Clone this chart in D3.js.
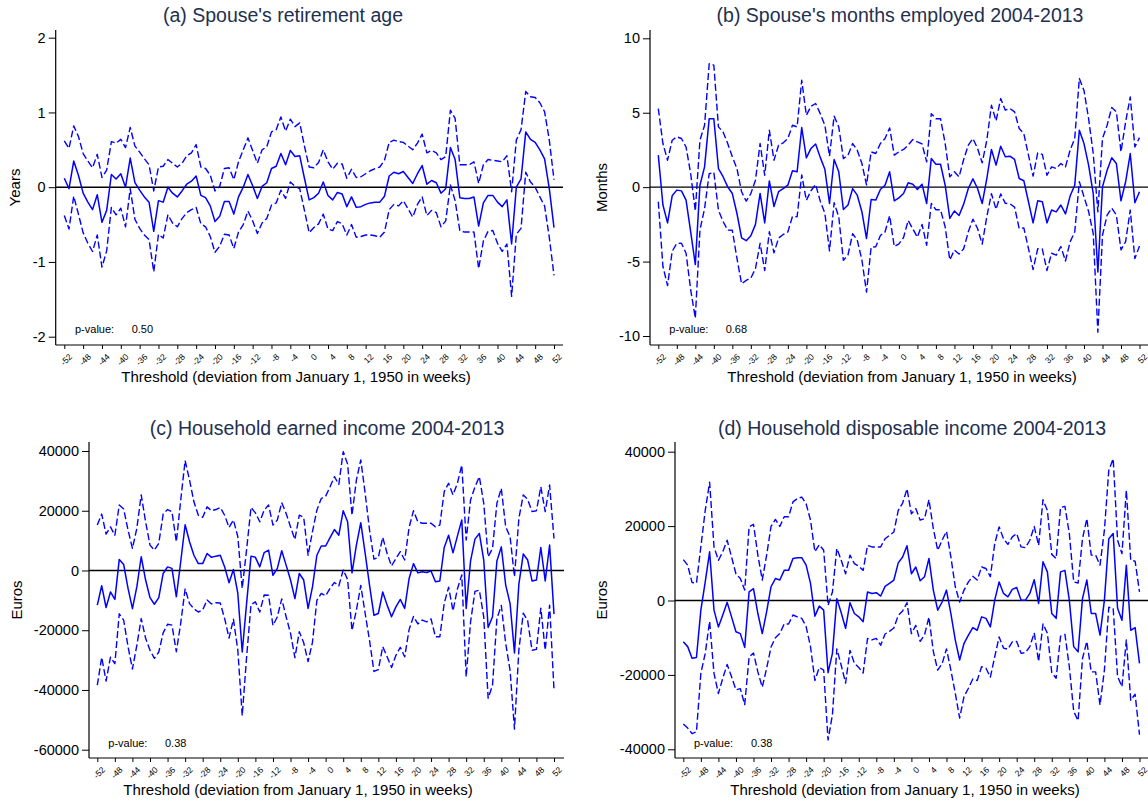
<!DOCTYPE html>
<html>
<head>
<meta charset="utf-8">
<script src="https://cdn.jsdelivr.net/npm/d3@7"></script>
<style>
  html, body { margin: 0; padding: 0; background: #ffffff; }
  svg { display: block; font-family: "Liberation Sans", Arial, Helvetica, sans-serif; }
</style>
</head>
<body>
<svg id="chart" width="1148" height="801"></svg>
<script>
// Placebo thresholds: weeks relative to January 1, 1950
const weeks = d3.range(-52, 53);
const weekTicks = [-52,-48,-44,-40,-36,-32,-28,-24,-20,-16,-12,-8,-4,0,4,8,12,16,20,24,28,32,36,40,44,48,52];

// (a) Spouse's retirement age (years): point estimate and 95% CI half-width
const retireEst = [
  0.12,-0.02,0.35,0.16,-0.08,-0.2,-0.3,-0.1,-0.47,-0.31,
  0.17,0.11,0.18,0.0,0.39,0.06,-0.04,-0.13,-0.2,-0.59,
  -0.18,-0.2,0.0,-0.08,-0.13,-0.05,0.04,0.08,0.15,-0.11,
  -0.14,-0.25,-0.46,-0.39,-0.19,-0.19,-0.36,-0.13,0.0,0.17,
  0.02,-0.15,0.01,0.06,0.25,0.28,0.45,0.3,0.49,0.41,
  0.42,0.12,-0.17,
  -0.14,-0.08,0.07,-0.11,-0.17,-0.07,-0.09,-0.26,-0.13,-0.27,
  -0.26,-0.23,-0.21,-0.2,-0.2,-0.12,0.15,0.2,0.18,0.21,
  0.13,0.05,0.18,0.29,0.04,0.09,0.06,-0.08,-0.02,0.53,
  0.37,-0.14,-0.15,-0.15,-0.13,-0.52,-0.21,-0.11,-0.11,-0.2,
  -0.26,-0.17,-0.76,0.0,0.11,0.74,0.64,0.6,0.5,0.38,
  -0.02,-0.54
];
const retireCI = [
  0.50,0.54,0.47,0.52,0.53,0.55,0.56,0.54,0.60,0.54,
  0.44,0.48,0.46,0.53,0.41,0.49,0.51,0.51,0.50,0.54,
  0.45,0.48,0.37,0.40,0.40,0.37,0.38,0.38,0.42,0.38,
  0.39,0.41,0.41,0.40,0.44,0.45,0.46,0.47,0.50,0.49,
  0.47,0.47,0.49,0.48,0.49,0.49,0.49,0.45,0.42,0.40,
  0.44,0.43,0.44,
  0.40,0.41,0.43,0.45,0.41,0.39,0.40,0.38,0.37,0.40,
  0.40,0.41,0.43,0.45,0.47,0.48,0.45,0.43,0.43,0.39,
  0.42,0.45,0.41,0.42,0.42,0.40,0.40,0.45,0.43,0.50,
  0.55,0.44,0.45,0.45,0.47,0.57,0.51,0.48,0.47,0.55,
  0.60,0.59,0.70,0.63,0.66,0.54,0.57,0.60,0.63,0.63,
  0.65,0.64
];

// (b) Spouse's months employed 2004-2013
const monthsEst = [
  2.15,-1.2,-2.4,-0.58,-0.2,-0.25,-0.87,-3.0,-5.2,0.13,
  1.36,4.6,4.6,1.25,0.7,0.02,-0.43,-1.77,-3.4,-3.6,
  -3.27,-2.5,-0.42,-2.4,0.42,-1.3,-0.3,-0.1,0.13,1.1,
  1.03,4.0,1.97,2.6,2.9,2.0,1.2,-1.1,1.86,1.03,
  -1.5,-1.2,-0.1,-0.54,-1.65,-3.45,-0.83,-0.87,-0.16,0.13,
  1.03,-0.92,-0.72,
  -0.43,0.29,0.2,-0.16,0.2,-1.1,1.92,1.54,1.54,0.13,
  -2.1,-1.6,-1.9,-1.14,-0.09,0.56,-0.09,-1.1,0.58,2.53,
  1.48,2.75,2.04,2.08,1.86,0.58,0.43,-0.98,-2.4,-0.92,
  -0.98,-2.4,-1.54,-1.66,-1.2,-1.8,-0.6,0.13,3.83,2.93,
  1.48,-0.43,-5.7,0.02,1.14,1.97,1.59,-0.92,0.36,2.26,
  -1.05,-0.31
];
const monthsCI = [
  3.13,4.13,4.21,3.73,3.58,3.52,3.57,3.9,3.6,3.02,
  2.8,3.7,3.6,2.8,3.01,2.91,2.47,3.02,3.09,2.66,
  2.84,2.97,3.35,3.2,3.41,3.11,3.12,3.08,3.14,3.06,
  3.02,3.18,2.86,2.84,2.72,2.94,2.96,3.18,2.91,3.02,
  3.42,3.35,3.03,3.02,3.24,3.6,3.2,3.13,3.09,3.14,
  2.95,3.07,3.09,
  2.96,2.53,3.0,3.2,2.7,2.8,3.02,3.06,3.06,2.8,
  2.79,2.63,2.59,3.0,2.91,2.71,2.69,2.73,2.57,2.97,
  2.97,3.2,3.13,3.2,3.2,3.36,3.17,3.13,3.14,3.22,
  3.18,3.2,2.9,2.91,2.79,3.16,3.08,3.14,3.47,3.57,
  3.12,2.69,4.04,3.25,3.02,3.38,3.47,3.29,4.02,3.8,
  3.75,3.64
];

// (c) Household earned income 2004-2013 (euros)
const earnedEst = [
  -11600,-5100,-12400,-7200,-9700,3700,2000,-6000,-12800,-5500,
  4600,-3200,-9100,-11300,-9100,-1000,1200,700,-8800,3000,
  15300,9600,5100,2300,2300,5700,4400,4800,5100,1200,
  -4100,300,-7700,-27300,-11000,4800,4400,1200,6000,6800,
  -1600,700,6600,1800,-3200,-9400,-1000,-3200,-12700,-5500,
  5100,8200,8200,
  11000,13700,11800,20000,16300,-800,8500,16000,5700,-5000,
  -15000,-14400,-7200,-11600,-15500,-12200,-9700,-12700,-2700,2300,
  -800,-400,-700,-200,-3800,-3500,7700,11800,5900,11500,
  16900,-12700,3200,10500,12400,3500,-19100,-15500,3200,7900,
  -4900,-11100,-27600,-4600,5500,3500,-3500,-3200,7700,-3500,
  8500,-14600
];
const earnedCI = [
  26800,24000,24600,21800,21500,18200,18600,19500,20200,19600,
  20700,19500,17600,18100,18200,19900,19200,19000,18400,20600,
  21500,20700,17900,16200,15500,15600,15600,15600,16000,17300,
  18500,16600,19000,21300,18000,16300,14900,15100,14200,15100,
  16800,16200,16100,17300,17800,19800,19500,21000,17800,18500,
  15100,15900,16700,
  17000,17700,17000,19800,19300,19300,21800,21000,20100,18500,
  18800,18800,18300,17300,17000,16200,16000,16200,17100,17700,
  17100,16200,16500,16000,18400,18700,18700,17400,19400,17700,
  18400,22900,20400,17500,19000,19000,23700,22900,19300,19600,
  19500,22400,25500,22000,19800,20300,23200,23200,20300,23200,
  20100,25300
];

// (d) Household disposable income 2004-2013 (euros)
const dispEst = [
  -11100,-12400,-15500,-15300,-2600,5000,13100,-2600,-7100,-3900,
  -500,-4400,-8400,-8900,-12600,2300,3200,-3500,-8900,-3000,
  3700,5900,5500,8100,8100,11300,11500,11500,9500,4600,
  -4200,-1500,-2600,-19400,-14200,500,-3300,-7500,-600,-3500,
  -4400,-5700,2300,1900,2100,1200,3800,4600,5500,10100,
  11700,14700,7200,
  9000,5300,6400,11300,2800,-2600,-400,2800,-3500,-10600,
  -16000,-11500,-9300,-7300,-8000,-4400,-4800,-7100,100,5000,
  1900,1000,3000,3500,100,100,1900,5600,-800,10400,
  7700,-3500,-4800,7700,8100,100,-12400,-13800,500,5500,
  -3500,-3500,-9300,100,16600,18000,-2100,-5300,9500,-8000,
  -7300,-16900
];
const dispCI = [
  22100,21900,20300,20000,17000,19200,18700,17000,17900,17000,
  16700,16100,15600,14800,15400,17500,17300,15700,14400,15200,
  16200,15900,14400,14400,14400,15200,15900,16300,16500,17000,
  17300,16500,16100,18100,16500,13500,14100,14700,12800,13400,
  13600,13800,12500,12500,12300,13200,12800,12900,12900,14100,
  14500,15300,16100,
  15700,16300,15600,15800,16500,16100,16600,15800,15200,14300,
  15600,14300,14300,13800,13500,13400,13400,13500,15200,14800,
  14700,14100,14100,14500,14300,14100,14300,14300,15600,16700,
  16500,15900,16100,17300,17200,17900,17400,18500,16100,16500,
  15700,15700,18800,18800,18400,20100,18300,17900,20100,18800,
  17900,19200
];

const panelTitles = [
  "(a) Spouse's retirement age",
  "(b) Spouse's months employed 2004-2013",
  "(c) Household earned income 2004-2013",
  "(d) Household disposable income 2004-2013"
];
const yTitles = ["Years", "Months", "Euros", "Euros"];
const yTickSets = [
  [-2, -1, 0, 1, 2],
  [-10, -5, 0, 5, 10],
  [-60000, -40000, -20000, 0, 20000, 40000],
  [-40000, -20000, 0, 20000, 40000]
];
const pValues = ["0.50", "0.68", "0.38", "0.38"];
const xTitle = "Threshold (deviation from January 1, 1950 in weeks)";

// Frame geometry of each of the four graphs
const layouts = [
  { axisX: 55.7, right: 563, top: 30, bottom: 345, xr: [64.3, 554], yd: [-2, 2], yr: [336.7, 37.7],
    titleX: 283, titleY: 22, xTitleX: 296, xTitleY: 382, yTitleX: 20, pX: 75, pNumX: 131.7, pY: 333 },
  { axisX: 650, right: 1148, top: 30, bottom: 345, xr: [658.3, 1139.5], yd: [-10, 10], yr: [336, 38.3],
    titleX: 900, titleY: 22, xTitleX: 902, xTitleY: 382, yTitleX: 607, pX: 669.3, pNumX: 725.7, pY: 333 },
  { axisX: 89, right: 564, top: 442, bottom: 758, xr: [97.3, 554], yd: [-60000, 40000], yr: [749.7, 451],
    titleX: 327, titleY: 435, xTitleX: 298, xTitleY: 795, yTitleX: 22, pX: 108.3, pNumX: 165, pY: 746.5 },
  { axisX: 675, right: 1148, top: 442, bottom: 758, xr: [683.3, 1139.5], yd: [-40000, 40000], yr: [749.3, 451.7],
    titleX: 912, titleY: 435, xTitleX: 905, xTitleY: 795, yTitleX: 607, pX: 694, pNumX: 751, pY: 746.5 }
];

const series = [
  [retireEst, retireCI],
  [monthsEst, monthsCI],
  [earnedEst, earnedCI],
  [dispEst, dispCI]
];

const svg = d3.select("#chart");
const BLUE = "#0000ff";
const INK = "#000000";
const TITLE_INK = "#22304f";

function drawPanel(i) {
  const L = layouts[i];
  const [est, ci] = series[i];
  const g = svg.append("g");

  const x = d3.scaleLinear().domain([-52, 52]).range(L.xr);
  const y = d3.scaleLinear().domain(L.yd).range(L.yr);

  // reference line at zero
  g.append("line")
    .attr("x1", L.axisX).attr("x2", L.right)
    .attr("y1", y(0)).attr("y2", y(0))
    .attr("stroke", INK).attr("stroke-width", 1.4);

  // confidence band edges (dashed) and point estimate (solid)
  const upper = est.map((v, k) => v + ci[k]);
  const lower = est.map((v, k) => v - ci[k]);
  const line = d3.line().x((d, k) => x(weeks[k])).y(d => y(d));

  [upper, lower].forEach(s => {
    g.append("path").attr("d", line(s))
      .attr("fill", "none").attr("stroke", BLUE)
      .attr("stroke-width", 1.4).attr("stroke-dasharray", "7,3")
      .attr("stroke-linejoin", "round");
  });
  g.append("path").attr("d", line(est))
    .attr("fill", "none").attr("stroke", BLUE)
    .attr("stroke-width", 1.5).attr("stroke-linejoin", "round");

  // y axis
  const yAxis = d3.axisLeft(y).tickValues(yTickSets[i]).tickSize(7).tickPadding(3)
    .tickFormat(d => String(d));
  const ya = g.append("g").attr("transform", `translate(${L.axisX},0)`).call(yAxis);
  ya.select(".domain").remove();
  ya.selectAll("line").attr("stroke", INK).attr("stroke-width", 1);
  ya.selectAll("text").attr("font-size", 14.5).attr("fill", INK)
    .attr("font-family", "\"Liberation Sans\", Arial, sans-serif");
  g.append("line").attr("x1", L.axisX).attr("x2", L.axisX)
    .attr("y1", L.top).attr("y2", L.bottom)
    .attr("stroke", INK).attr("stroke-width", 1.2);

  // x axis with slanted week labels
  const xAxis = d3.axisBottom(x).tickValues(weekTicks).tickSize(4).tickPadding(2)
    .tickFormat(d => String(d));
  const xa = g.append("g").attr("transform", `translate(0,${L.bottom})`).call(xAxis);
  xa.select(".domain").remove();
  xa.selectAll("line").attr("stroke", INK).attr("stroke-width", 1);
  xa.selectAll("text")
    .attr("font-size", 8.5).attr("fill", INK)
    .attr("font-family", "\"Liberation Sans\", Arial, sans-serif")
    .attr("text-anchor", "end")
    .attr("dy", "0.35em")
    .attr("transform", "translate(1.5,6) rotate(-45)");
  g.append("line").attr("x1", L.axisX).attr("x2", L.right)
    .attr("y1", L.bottom).attr("y2", L.bottom)
    .attr("stroke", INK).attr("stroke-width", 1.2);

  // titles
  g.append("text").attr("x", L.titleX).attr("y", L.titleY)
    .attr("text-anchor", "middle").attr("font-size", 19.5).attr("fill", TITLE_INK)
    .text(panelTitles[i]);
  g.append("text").attr("x", L.xTitleX).attr("y", L.xTitleY)
    .attr("text-anchor", "middle").attr("font-size", 15).attr("fill", INK)
    .text(xTitle);
  const yMid = (L.top + L.bottom) / 2;
  g.append("text")
    .attr("transform", `translate(${L.yTitleX},${yMid}) rotate(-90)`)
    .attr("text-anchor", "middle").attr("font-size", 15).attr("fill", INK)
    .text(yTitles[i]);

  // p-value note
  g.append("text").attr("x", L.pX).attr("y", L.pY)
    .attr("font-size", 11).attr("fill", INK).text("p-value:");
  g.append("text").attr("x", L.pNumX).attr("y", L.pY)
    .attr("font-size", 11).attr("fill", INK).text(pValues[i]);
}

for (let i = 0; i < 4; i++) drawPanel(i);
</script>
</body>
</html>
